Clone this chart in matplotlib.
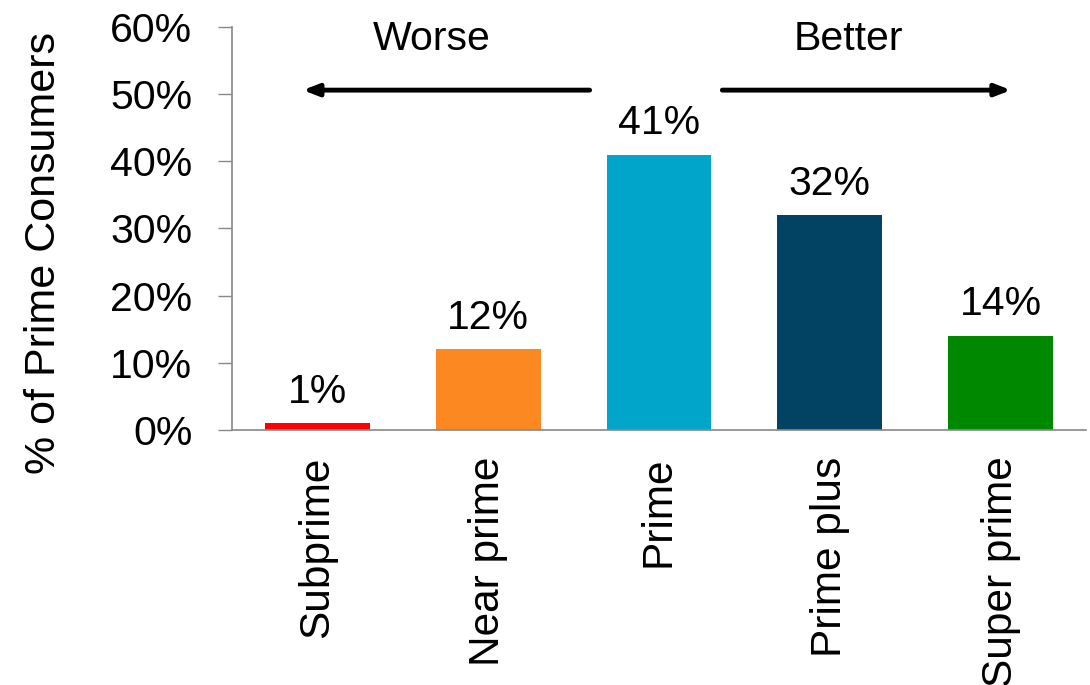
import matplotlib.pyplot as plt
import numpy as np

plt.rcParams['font.family'] = ['Liberation Sans', 'DejaVu Sans']

categories = ['Subprime', 'Near prime', 'Prime', 'Prime plus', 'Super prime']
shares = [1, 12, 41, 32, 14]
colors = ['#FF0000', '#FB8821', '#00A5C9', '#024363', '#008800']
yticks = [0, 10, 20, 30, 40, 50, 60]

fig = plt.figure(figsize=(10.9, 6.85), dpi=100)
ax = fig.add_axes([0.2128, 0.3723, 0.7835, 0.5883])

x = np.arange(len(categories))
bars = ax.bar(x, shares, width=0.614, color=colors)
for xi, v in zip(x, shares):
    ax.annotate('%d%%' % v, (xi, v), xytext=(0, 9), textcoords='offset points',
                ha='center', va='bottom', fontsize=29.5)

ax.set_xlim(-0.5, 4.5)
ax.set_ylim(0, 60)
ax.set_yticks(yticks)
ax.set_yticklabels(['%d%%' % t for t in yticks], fontsize=29.5)
ax.set_xticks(x)
ax.set_xticklabels(categories, rotation=90, fontsize=30.5)
ax.tick_params(axis='x', length=0, pad=19)
ax.tick_params(axis='y', length=10, width=1, color='#888888', pad=18.5)
ax.set_ylabel('% of Prime Consumers', fontsize=31)
ax.yaxis.set_label_coords(-0.197, 0.44)

for s in ['top', 'right']:
    ax.spines[s].set_visible(False)
for s in ['left', 'bottom']:
    ax.spines[s].set_color('#888888')
    ax.spines[s].set_linewidth(1.2)

# direction arrows
arrow = dict(arrowstyle='-|>,head_length=0.9,head_width=0.35', color='black', lw=3.5,
             shrinkA=0, shrinkB=0)
ax.annotate('', xy=(-0.085, 50.6), xytext=(1.594, 50.6), arrowprops=arrow, annotation_clip=False)
ax.annotate('', xy=(4.061, 50.6), xytext=(2.371, 50.6), arrowprops=arrow, annotation_clip=False)
ax.text(0.67, 58.2, 'Worse', ha='center', va='center', fontsize=29.5, clip_on=False)
ax.text(3.11, 58.2, 'Better', ha='center', va='center', fontsize=29.5, clip_on=False)

fig.savefig('out.png', dpi=100)
